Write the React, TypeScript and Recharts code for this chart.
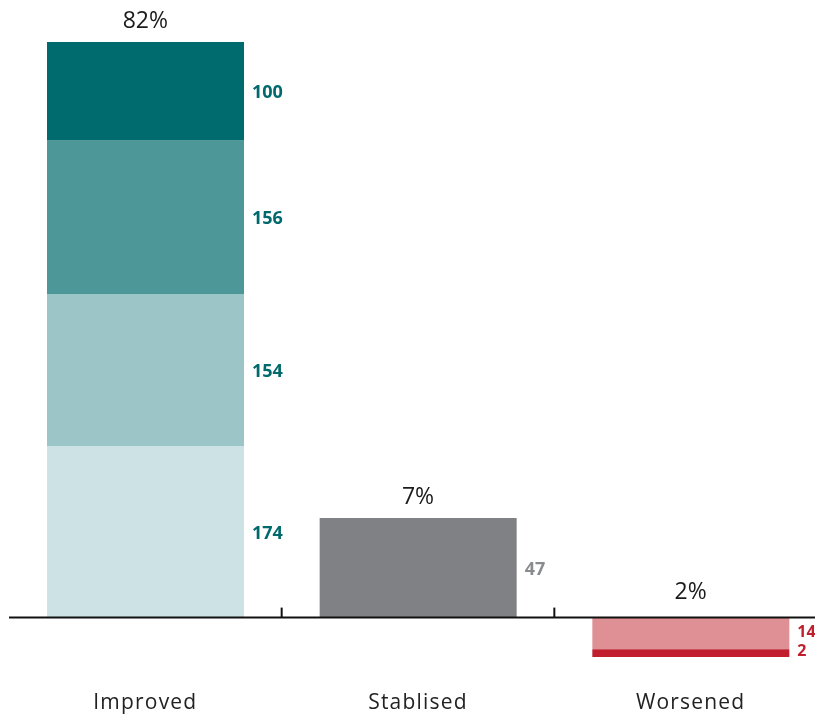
import React from 'react';
import { BarChart, Bar, XAxis, YAxis, Cell, LabelList, ReferenceLine, ReferenceDot } from 'recharts';

// Categories
const categories = ['Improved', 'Stablised', 'Worsened'];
// Bar lengths (chart units), bottom segment first
const seg1 = [174, 101, -32];
const seg2 = [154, 0, -8];
const seg3 = [156, 0, 0];
const seg4 = [100, 0, 0];
// Value labels shown beside each segment
const label1 = ['174', '47', '14'];
const label2 = ['154', '', '2'];
const label3 = ['156', '', ''];
const label4 = ['100', '', ''];
// Percent labels above each bar
const percentLabels = ['82%', '7%', '2%'];
// Boundaries between categories (in category-index units)
const tickPositions = [1, 2];

const colors1 = ['#cde2e4', '#808184', '#de9095'];
const colors2 = ['#9bc5c6', '#808184', '#c11f2e'];
const colors3 = ['#4e9799', '#808184', '#c11f2e'];
const colors4 = ['#006b6e', '#808184', '#c11f2e'];
const labelColors = ['#00696c', '#8a8b8e', '#c11f2e'];
const labelFontSizes = [18, 18, 16];

const FONT = '"Open Sans", sans-serif';

const data = categories.map((c, i) => ({
  cat: c,
  idx: i,
  s1: seg1[i],
  s2: seg2[i],
  s3: seg3[i],
  s4: seg4[i],
}));

const tops = categories.map((_, i) =>
  [seg1[i], seg2[i], seg3[i], seg4[i]].filter((v) => v > 0).reduce((a, b) => a + b, 0)
);

const makeLabel = (labels: string[]) => (props: any) => {
  const { x, y, width, height, value } = props;
  const i = Number(value);
  const text = labels[i];
  if (!text) return null;
  const top = Math.min(Number(y), Number(y) + Number(height));
  const h = Math.abs(Number(height));
  const center = top + h / 2;
  let base = center + 7;
  if (h < 20) base = center + 2.5;
  else if (h < 40) base = center + 4;
  return (
    <text
      x={Number(x) + Number(width) + 8}
      y={base}
      fill={labelColors[i]}
      fontSize={labelFontSizes[i]}
      fontWeight={700}
      fontFamily={FONT}
    >
      {text}
    </text>
  );
};

const CatTick = (props: any) => {
  const { x, y, payload } = props;
  return (
    <text
      x={x}
      y={y}
      dy={51}
      textAnchor="middle"
      fill="#222"
      fontSize={21}
      letterSpacing={1.2}
      fontFamily={FONT}
    >
      {payload.value}
    </text>
  );
};

const AxisWithTicks = (props: any) => {
  const { x1, y1, x2, y2 } = props;
  const w = Number(x2) - Number(x1);
  return (
    <g>
      <line x1={x1} y1={y1} x2={x2} y2={y2} stroke="#111" strokeWidth={2} />
      {tickPositions.map((t) => {
        const tx = Number(x1) + (w * t) / categories.length;
        return <line key={t} x1={tx} x2={tx} y1={Number(y1)} y2={Number(y1) - 10} stroke="#111" strokeWidth={2} />;
      })}
    </g>
  );
};

export default function App() {
  return (
    <div style={{ position: 'fixed', left: 0, top: 0, width: 815, height: 715, overflow: 'hidden' }}>
      <BarChart
        width={827}
        height={715}
        data={data}
        margin={{ top: 42, right: 0, left: 9, bottom: 0 }}
        stackOffset="sign"
        barSize={197}
      >
        <XAxis
          dataKey="cat"
          axisLine={false}
          tickLine={false}
          tickSize={0}
          tickMargin={0}
          height={57}
          tick={<CatTick />}
          interval={0}
        />
        <YAxis hide domain={[-41, 584]} allowDataOverflow />
        <Bar dataKey="s1" stackId="a" isAnimationActive={false}>
          {data.map((_, i) => (
            <Cell key={i} fill={colors1[i]} />
          ))}
          <LabelList dataKey="idx" content={makeLabel(label1)} />
        </Bar>
        <Bar dataKey="s2" stackId="a" isAnimationActive={false}>
          {data.map((_, i) => (
            <Cell key={i} fill={colors2[i]} />
          ))}
          <LabelList dataKey="idx" content={makeLabel(label2)} />
        </Bar>
        <Bar dataKey="s3" stackId="a" isAnimationActive={false}>
          {data.map((_, i) => (
            <Cell key={i} fill={colors3[i]} />
          ))}
          <LabelList dataKey="idx" content={makeLabel(label3)} />
        </Bar>
        <Bar dataKey="s4" stackId="a" isAnimationActive={false}>
          {data.map((_, i) => (
            <Cell key={i} fill={colors4[i]} />
          ))}
          <LabelList dataKey="idx" content={makeLabel(label4)} />
        </Bar>
        <ReferenceLine y={0} stroke="#111" strokeWidth={2} ifOverflow="visible" shape={AxisWithTicks} />
        {categories.map((c, i) => (
          <ReferenceDot
            key={c}
            x={c}
            y={tops[i]}
            r={0}
            fill="none"
            stroke="none"
            ifOverflow="visible"
            label={{
              value: percentLabels[i],
              position: 'top',
              offset: tops[i] > 0 ? 14 : 19,
              fill: '#1a1a1a',
              fontSize: 23,
              fontFamily: FONT,
            }}
          />
        ))}
      </BarChart>
    </div>
  );
}
